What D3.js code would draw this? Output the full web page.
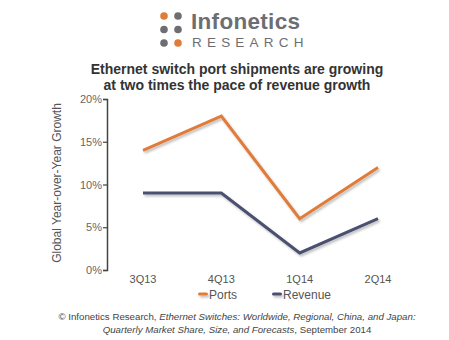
<!DOCTYPE html>
<html>
<head>
<meta charset="utf-8">
<script src="https://cdn.jsdelivr.net/npm/d3@7"></script>
<style>
  body { margin: 0; background: #fff; }
  text { font-family: Arial, "Liberation Sans", sans-serif; }
</style>
</head>
<body>
<div id="chart"></div>
<script>
const quarters = ['3Q13', '4Q13', '1Q14', '2Q14'];
const ports = [14, 18, 6, 12];
const revenue = [9, 9, 2, 6];
const yTicks = [0, 5, 10, 15, 20];

const width = 449, height = 340;
const orange = '#e07b39', navy = '#4b4f70', gray = '#6d6e71';

const svg = d3.select('#chart').append('svg')
  .attr('width', width)
  .attr('height', height);

// soft shadow under the lines
const defs = svg.append('defs');
const shadow = defs.append('filter').attr('id', 'shadow')
  .attr('filterUnits', 'userSpaceOnUse')
  .attr('x', 0).attr('y', 0).attr('width', width).attr('height', height);
shadow.append('feDropShadow')
  .attr('dx', 1.5).attr('dy', 2).attr('stdDeviation', 1.2)
  .attr('flood-color', '#000').attr('flood-opacity', 0.25);

// logo
const dots = [[0, 0, orange], [1, 0, gray], [0, 1, gray], [1, 1, gray], [0, 2, gray], [1, 2, orange]];
svg.append('g').selectAll('circle').data(dots).enter().append('circle')
  .attr('cx', d => 164 + d[0] * 14)
  .attr('cy', d => 16 + d[1] * 13.5)
  .attr('r', 3.8)
  .attr('fill', d => d[2]);
svg.append('text').attr('x', 191).attr('y', 28.5)
  .attr('font-size', 22.5).attr('fill', gray).attr('font-family', '"Open Sans", sans-serif')
  .attr('font-weight', 600).attr('letter-spacing', 0.3)
  .text('Infonetics');
svg.append('text').attr('x', 192).attr('y', 47)
  .attr('font-size', 13.5).attr('fill', gray).attr('font-family', '"Open Sans", sans-serif')
  .attr('letter-spacing', 5.2)
  .text('RESEARCH');

// title
const title = svg.append('text').attr('text-anchor', 'middle')
  .attr('font-size', 14).attr('font-weight', 'bold').attr('fill', '#333');
title.append('tspan').attr('x', 237).attr('y', 74).text('Ethernet switch port shipments are growing');
title.append('tspan').attr('x', 237).attr('y', 90).text('at two times the pace of revenue growth');

const x = d3.scalePoint().domain(quarters).range([143, 378]);
const y = d3.scaleLinear().domain([0, 20]).range([270, 99]);

// y axis
const yAxis = svg.append('g').attr('transform', 'translate(107,0)')
  .call(d3.axisLeft(y).tickValues(yTicks).tickFormat(d => d + '%').tickSizeOuter(0).tickSize(4));
yAxis.select('.domain').attr('stroke', '#444').attr('stroke-width', 1.5);
yAxis.selectAll('.tick line').attr('stroke', '#444').attr('stroke-width', 1.2);
yAxis.selectAll('.tick text').attr('font-size', 11).attr('fill', '#666')
  .attr('font-family', 'Arial, "Liberation Sans", sans-serif').attr('x', -5);

svg.append('text')
  .attr('transform', 'translate(61,183) rotate(-90)')
  .attr('text-anchor', 'middle').attr('font-size', 12).attr('fill', '#555')
  .text('Global Year-over-Year Growth');

// x labels
svg.append('g').selectAll('text').data(quarters).enter().append('text')
  .attr('x', d => x(d)).attr('y', 283)
  .attr('text-anchor', 'middle').attr('font-size', 11).attr('fill', '#555')
  .text(d => d);

// lines
const line = d3.line().x((d, i) => x(quarters[i])).y(d => y(d));
[[ports, orange], [revenue, navy]].forEach(([vals, color]) => {
  svg.append('path').datum(vals)
    .attr('d', line)
    .attr('fill', 'none')
    .attr('stroke', color)
    .attr('stroke-width', 3)
    .attr('stroke-linejoin', 'miter')
    .attr('filter', 'url(#shadow)');
});

// legend
const legend = [['Ports', orange, 198], ['Revenue', navy, 272]];
legend.forEach(([name, color, lx]) => {
  svg.append('rect').attr('x', lx).attr('y', 292.5).attr('width', 10).attr('height', 3)
    .attr('rx', 1.5).attr('fill', color)
    .attr('filter', 'url(#shadow)');
  svg.append('text').attr('x', lx + 11).attr('y', 298.5)
    .attr('font-size', 12).attr('fill', '#555').text(name);
});

// source note
const note = svg.append('text').attr('text-anchor', 'middle')
  .attr('font-size', 9.7).attr('fill', '#444');
const l1 = note.append('tspan').attr('x', 237).attr('y', 320);
l1.append('tspan').text('© Infonetics Research, ');
l1.append('tspan').attr('font-style', 'italic').text('Ethernet Switches: Worldwide, Regional, China, and Japan:');
const l2 = note.append('tspan').attr('x', 237).attr('y', 333);
l2.append('tspan').attr('font-style', 'italic').text('Quarterly Market Share, Size, and Forecasts');
l2.append('tspan').text(', September 2014');
</script>
</body>
</html>
